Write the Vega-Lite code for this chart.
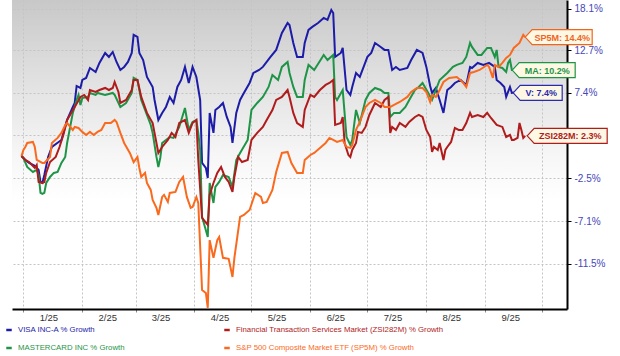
{
  "$schema": "https://vega.github.io/schema/vega-lite/v6.json",
  "width": 555,
  "height": 309,
  "autosize": {"type": "none"},
  "padding": {"left": 12, "top": 0, "right": 53, "bottom": 47},
  "background": "#ffffff",
  "config": {
    "font": "Liberation Sans",
    "view": {
      "stroke": null,
      "fill": {"gradient": "linear", "x1": 0, "y1": 0, "x2": 0, "y2": 1,
        "stops": [{"offset": 0, "color": "#c8c8c8"}, {"offset": 0.25, "color": "#e0e0e0"}, {"offset": 0.5, "color": "#f6f6f6"}, {"offset": 0.65, "color": "#ffffff"}, {"offset": 1, "color": "#ffffff"}]}
    }
  },
  "datasets": {
    "ends": [
      {"ticker": "SP5M", "date": "2025-09-22", "level": 114.4, "label": "SP5M: 14.4%"},
      {"ticker": "MA", "date": "2025-09-22", "level": 110.2, "label": "MA: 10.2%"},
      {"ticker": "V", "date": "2025-09-22", "level": 107.4, "label": "V: 7.4%"},
      {"ticker": "ZSI282M", "date": "2025-09-22", "level": 102.3, "label": "ZSI282M: 2.3%"}
    ],
    "growth": [
      {"ticker":"V","date":"2024-12-31","level":100},
      {"ticker":"V","date":"2025-01-02","level":99.55},
      {"ticker":"V","date":"2025-01-04","level":99.21},
      {"ticker":"V","date":"2025-01-07","level":98.88},
      {"ticker":"V","date":"2025-01-09","level":98.43},
      {"ticker":"V","date":"2025-01-10","level":97.10},
      {"ticker":"V","date":"2025-01-11","level":96.99},
      {"ticker":"V","date":"2025-01-12","level":97.87},
      {"ticker":"V","date":"2025-01-14","level":99.89},
      {"ticker":"V","date":"2025-01-16","level":101.02},
      {"ticker":"V","date":"2025-01-21","level":101.83},
      {"ticker":"V","date":"2025-01-24","level":104.16},
      {"ticker":"V","date":"2025-01-27","level":105.70},
      {"ticker":"V","date":"2025-01-28","level":106.18},
      {"ticker":"V","date":"2025-01-29","level":108.24},
      {"ticker":"V","date":"2025-01-31","level":108.00},
      {"ticker":"V","date":"2025-02-01","level":108.98},
      {"ticker":"V","date":"2025-02-03","level":109.23},
      {"ticker":"V","date":"2025-02-05","level":110.47},
      {"ticker":"V","date":"2025-02-08","level":109.97},
      {"ticker":"V","date":"2025-02-10","level":111.10},
      {"ticker":"V","date":"2025-02-13","level":112.36},
      {"ticker":"V","date":"2025-02-15","level":111.86},
      {"ticker":"V","date":"2025-02-17","level":112.49},
      {"ticker":"V","date":"2025-02-19","level":111.22},
      {"ticker":"V","date":"2025-02-21","level":110.22},
      {"ticker":"V","date":"2025-02-23","level":110.60},
      {"ticker":"V","date":"2025-02-25","level":111.22},
      {"ticker":"V","date":"2025-02-27","level":112.36},
      {"ticker":"V","date":"2025-02-28","level":114.68},
      {"ticker":"V","date":"2025-03-02","level":114.42},
      {"ticker":"V","date":"2025-03-03","level":112.36},
      {"ticker":"V","date":"2025-03-05","level":111.47},
      {"ticker":"V","date":"2025-03-07","level":109.35},
      {"ticker":"V","date":"2025-03-10","level":108.12},
      {"ticker":"V","date":"2025-03-11","level":106.54},
      {"ticker":"V","date":"2025-03-13","level":104.16},
      {"ticker":"V","date":"2025-03-15","level":104.99},
      {"ticker":"V","date":"2025-03-17","level":105.70},
      {"ticker":"V","date":"2025-03-19","level":106.91},
      {"ticker":"V","date":"2025-03-21","level":106.18},
      {"ticker":"V","date":"2025-03-23","level":108.12},
      {"ticker":"V","date":"2025-03-25","level":108.98},
      {"ticker":"V","date":"2025-03-27","level":110.60},
      {"ticker":"V","date":"2025-03-29","level":108.61},
      {"ticker":"V","date":"2025-03-31","level":110.60},
      {"ticker":"V","date":"2025-04-02","level":109.35},
      {"ticker":"V","date":"2025-04-04","level":106.54},
      {"ticker":"V","date":"2025-04-05","level":99.21},
      {"ticker":"V","date":"2025-04-07","level":98.65},
      {"ticker":"V","date":"2025-04-08","level":97.54},
      {"ticker":"V","date":"2025-04-09","level":104.99},
      {"ticker":"V","date":"2025-04-11","level":102.64},
      {"ticker":"V","date":"2025-04-12","level":105.34},
      {"ticker":"V","date":"2025-04-14","level":105.70},
      {"ticker":"V","date":"2025-04-16","level":106.18},
      {"ticker":"V","date":"2025-04-18","level":104.51},
      {"ticker":"V","date":"2025-04-20","level":103.34},
      {"ticker":"V","date":"2025-04-21","level":101.48},
      {"ticker":"V","date":"2025-04-23","level":104.99},
      {"ticker":"V","date":"2025-04-25","level":106.54},
      {"ticker":"V","date":"2025-04-27","level":107.39},
      {"ticker":"V","date":"2025-04-30","level":108.61},
      {"ticker":"V","date":"2025-05-02","level":109.85},
      {"ticker":"V","date":"2025-05-05","level":110.22},
      {"ticker":"V","date":"2025-05-07","level":110.60},
      {"ticker":"V","date":"2025-05-11","level":111.86},
      {"ticker":"V","date":"2025-05-14","level":112.75},
      {"ticker":"V","date":"2025-05-17","level":114.94},
      {"ticker":"V","date":"2025-05-20","level":116.24},
      {"ticker":"V","date":"2025-05-21","level":115.98},
      {"ticker":"V","date":"2025-05-23","level":113.64},
      {"ticker":"V","date":"2025-05-25","level":111.86},
      {"ticker":"V","date":"2025-05-28","level":111.86},
      {"ticker":"V","date":"2025-05-29","level":113.64},
      {"ticker":"V","date":"2025-05-31","level":115.33},
      {"ticker":"V","date":"2025-06-02","level":115.72},
      {"ticker":"V","date":"2025-06-05","level":116.24},
      {"ticker":"V","date":"2025-06-08","level":116.90},
      {"ticker":"V","date":"2025-06-10","level":116.64},
      {"ticker":"V","date":"2025-06-12","level":117.97},
      {"ticker":"V","date":"2025-06-13","level":117.56},
      {"ticker":"V","date":"2025-06-14","level":111.86},
      {"ticker":"V","date":"2025-06-17","level":112.36},
      {"ticker":"V","date":"2025-06-18","level":113.00},
      {"ticker":"V","date":"2025-06-20","level":107.75},
      {"ticker":"V","date":"2025-06-22","level":107.15},
      {"ticker":"V","date":"2025-06-23","level":108.12},
      {"ticker":"V","date":"2025-06-25","level":109.85},
      {"ticker":"V","date":"2025-06-27","level":109.35},
      {"ticker":"V","date":"2025-06-29","level":110.60},
      {"ticker":"V","date":"2025-07-01","level":111.86},
      {"ticker":"V","date":"2025-07-03","level":112.36},
      {"ticker":"V","date":"2025-07-05","level":113.64},
      {"ticker":"V","date":"2025-07-08","level":113.13},
      {"ticker":"V","date":"2025-07-10","level":112.75},
      {"ticker":"V","date":"2025-07-12","level":112.75},
      {"ticker":"V","date":"2025-07-14","level":110.22},
      {"ticker":"V","date":"2025-07-16","level":110.60},
      {"ticker":"V","date":"2025-07-18","level":110.22},
      {"ticker":"V","date":"2025-07-22","level":110.47},
      {"ticker":"V","date":"2025-07-24","level":111.47},
      {"ticker":"V","date":"2025-07-27","level":112.75},
      {"ticker":"V","date":"2025-07-30","level":112.36},
      {"ticker":"V","date":"2025-08-01","level":110.60},
      {"ticker":"V","date":"2025-08-03","level":108.24},
      {"ticker":"V","date":"2025-08-04","level":107.39},
      {"ticker":"V","date":"2025-08-06","level":108.00},
      {"ticker":"V","date":"2025-08-08","level":106.54},
      {"ticker":"V","date":"2025-08-10","level":104.99},
      {"ticker":"V","date":"2025-08-12","level":107.75},
      {"ticker":"V","date":"2025-08-14","level":108.12},
      {"ticker":"V","date":"2025-08-16","level":108.61},
      {"ticker":"V","date":"2025-08-19","level":108.98},
      {"ticker":"V","date":"2025-08-22","level":108.37},
      {"ticker":"V","date":"2025-08-24","level":110.60},
      {"ticker":"V","date":"2025-08-25","level":110.47},
      {"ticker":"V","date":"2025-08-28","level":111.10},
      {"ticker":"V","date":"2025-08-31","level":110.85},
      {"ticker":"V","date":"2025-09-03","level":111.10},
      {"ticker":"V","date":"2025-09-06","level":110.60},
      {"ticker":"V","date":"2025-09-07","level":108.98},
      {"ticker":"V","date":"2025-09-09","level":108.61},
      {"ticker":"V","date":"2025-09-11","level":108.12},
      {"ticker":"V","date":"2025-09-12","level":106.91},
      {"ticker":"V","date":"2025-09-14","level":108.12},
      {"ticker":"V","date":"2025-09-15","level":107.39},
      {"ticker":"V","date":"2025-09-18","level":107.50},
      {"ticker":"V","date":"2025-09-22","level":107.40},

      {"ticker":"MA","date":"2024-12-31","level":100},
      {"ticker":"MA","date":"2025-01-01","level":99.77},
      {"ticker":"MA","date":"2025-01-03","level":98.76},
      {"ticker":"MA","date":"2025-01-06","level":98.21},
      {"ticker":"MA","date":"2025-01-08","level":98.43},
      {"ticker":"MA","date":"2025-01-09","level":97.87},
      {"ticker":"MA","date":"2025-01-10","level":95.90},
      {"ticker":"MA","date":"2025-01-11","level":95.79},
      {"ticker":"MA","date":"2025-01-12","level":95.90},
      {"ticker":"MA","date":"2025-01-13","level":96.99},
      {"ticker":"MA","date":"2025-01-15","level":97.65},
      {"ticker":"MA","date":"2025-01-17","level":98.10},
      {"ticker":"MA","date":"2025-01-19","level":98.21},
      {"ticker":"MA","date":"2025-01-21","level":99.21},
      {"ticker":"MA","date":"2025-01-23","level":99.89},
      {"ticker":"MA","date":"2025-01-24","level":101.48},
      {"ticker":"MA","date":"2025-01-27","level":104.99},
      {"ticker":"MA","date":"2025-01-29","level":106.54},
      {"ticker":"MA","date":"2025-01-30","level":107.15},
      {"ticker":"MA","date":"2025-01-31","level":105.94},
      {"ticker":"MA","date":"2025-02-01","level":106.79},
      {"ticker":"MA","date":"2025-02-04","level":106.91},
      {"ticker":"MA","date":"2025-02-05","level":107.39},
      {"ticker":"MA","date":"2025-02-08","level":107.15},
      {"ticker":"MA","date":"2025-02-09","level":107.39},
      {"ticker":"MA","date":"2025-02-13","level":107.15},
      {"ticker":"MA","date":"2025-02-17","level":107.39},
      {"ticker":"MA","date":"2025-02-18","level":107.15},
      {"ticker":"MA","date":"2025-02-21","level":105.70},
      {"ticker":"MA","date":"2025-02-24","level":106.18},
      {"ticker":"MA","date":"2025-02-27","level":107.39},
      {"ticker":"MA","date":"2025-02-28","level":109.23},
      {"ticker":"MA","date":"2025-03-02","level":108.98},
      {"ticker":"MA","date":"2025-03-04","level":106.54},
      {"ticker":"MA","date":"2025-03-06","level":105.34},
      {"ticker":"MA","date":"2025-03-09","level":103.57},
      {"ticker":"MA","date":"2025-03-10","level":102.64},
      {"ticker":"MA","date":"2025-03-12","level":99.89},
      {"ticker":"MA","date":"2025-03-13","level":98.76},
      {"ticker":"MA","date":"2025-03-14","level":99.77},
      {"ticker":"MA","date":"2025-03-15","level":101.48},
      {"ticker":"MA","date":"2025-03-19","level":102.17},
      {"ticker":"MA","date":"2025-03-21","level":102.06},
      {"ticker":"MA","date":"2025-03-24","level":103.34},
      {"ticker":"MA","date":"2025-03-27","level":105.58},
      {"ticker":"MA","date":"2025-03-29","level":102.99},
      {"ticker":"MA","date":"2025-03-31","level":103.92},
      {"ticker":"MA","date":"2025-04-02","level":104.16},
      {"ticker":"MA","date":"2025-04-03","level":102.64},
      {"ticker":"MA","date":"2025-04-04","level":100.68},
      {"ticker":"MA","date":"2025-04-05","level":93.33},
      {"ticker":"MA","date":"2025-04-08","level":91.24},
      {"ticker":"MA","date":"2025-04-09","level":96.99},
      {"ticker":"MA","date":"2025-04-11","level":94.82},
      {"ticker":"MA","date":"2025-04-12","level":96.55},
      {"ticker":"MA","date":"2025-04-14","level":97.10},
      {"ticker":"MA","date":"2025-04-16","level":97.87},
      {"ticker":"MA","date":"2025-04-19","level":97.65},
      {"ticker":"MA","date":"2025-04-21","level":96.55},
      {"ticker":"MA","date":"2025-04-23","level":99.55},
      {"ticker":"MA","date":"2025-04-25","level":100.34},
      {"ticker":"MA","date":"2025-04-29","level":101.83},
      {"ticker":"MA","date":"2025-05-01","level":105.34},
      {"ticker":"MA","date":"2025-05-04","level":106.18},
      {"ticker":"MA","date":"2025-05-07","level":106.91},
      {"ticker":"MA","date":"2025-05-10","level":108.12},
      {"ticker":"MA","date":"2025-05-12","level":109.60},
      {"ticker":"MA","date":"2025-05-15","level":108.98},
      {"ticker":"MA","date":"2025-05-17","level":110.60},
      {"ticker":"MA","date":"2025-05-20","level":111.22},
      {"ticker":"MA","date":"2025-05-21","level":109.85},
      {"ticker":"MA","date":"2025-05-23","level":108.12},
      {"ticker":"MA","date":"2025-05-25","level":106.91},
      {"ticker":"MA","date":"2025-05-28","level":106.91},
      {"ticker":"MA","date":"2025-05-29","level":108.98},
      {"ticker":"MA","date":"2025-05-31","level":110.85},
      {"ticker":"MA","date":"2025-06-03","level":110.22},
      {"ticker":"MA","date":"2025-06-08","level":112.11},
      {"ticker":"MA","date":"2025-06-10","level":111.47},
      {"ticker":"MA","date":"2025-06-13","level":112.11},
      {"ticker":"MA","date":"2025-06-14","level":106.91},
      {"ticker":"MA","date":"2025-06-15","level":106.54},
      {"ticker":"MA","date":"2025-06-18","level":107.75},
      {"ticker":"MA","date":"2025-06-20","level":102.17},
      {"ticker":"MA","date":"2025-06-22","level":101.25},
      {"ticker":"MA","date":"2025-06-23","level":101.83},
      {"ticker":"MA","date":"2025-06-25","level":105.34},
      {"ticker":"MA","date":"2025-06-27","level":103.80},
      {"ticker":"MA","date":"2025-06-30","level":106.54},
      {"ticker":"MA","date":"2025-07-02","level":107.39},
      {"ticker":"MA","date":"2025-07-05","level":108.00},
      {"ticker":"MA","date":"2025-07-08","level":107.75},
      {"ticker":"MA","date":"2025-07-10","level":107.39},
      {"ticker":"MA","date":"2025-07-12","level":107.39},
      {"ticker":"MA","date":"2025-07-13","level":104.51},
      {"ticker":"MA","date":"2025-07-15","level":104.99},
      {"ticker":"MA","date":"2025-07-18","level":104.99},
      {"ticker":"MA","date":"2025-07-21","level":105.70},
      {"ticker":"MA","date":"2025-07-23","level":106.54},
      {"ticker":"MA","date":"2025-07-26","level":107.75},
      {"ticker":"MA","date":"2025-07-28","level":108.12},
      {"ticker":"MA","date":"2025-07-30","level":108.61},
      {"ticker":"MA","date":"2025-08-02","level":107.39},
      {"ticker":"MA","date":"2025-08-04","level":106.54},
      {"ticker":"MA","date":"2025-08-08","level":108.98},
      {"ticker":"MA","date":"2025-08-12","level":109.85},
      {"ticker":"MA","date":"2025-08-15","level":110.60},
      {"ticker":"MA","date":"2025-08-17","level":110.85},
      {"ticker":"MA","date":"2025-08-20","level":111.10},
      {"ticker":"MA","date":"2025-08-22","level":111.86},
      {"ticker":"MA","date":"2025-08-24","level":113.64},
      {"ticker":"MA","date":"2025-08-25","level":113.13},
      {"ticker":"MA","date":"2025-08-28","level":112.11},
      {"ticker":"MA","date":"2025-08-30","level":112.11},
      {"ticker":"MA","date":"2025-09-02","level":113.00},
      {"ticker":"MA","date":"2025-09-04","level":113.00},
      {"ticker":"MA","date":"2025-09-06","level":111.86},
      {"ticker":"MA","date":"2025-09-07","level":112.75},
      {"ticker":"MA","date":"2025-09-08","level":110.60},
      {"ticker":"MA","date":"2025-09-10","level":110.47},
      {"ticker":"MA","date":"2025-09-12","level":109.97},
      {"ticker":"MA","date":"2025-09-13","level":111.10},
      {"ticker":"MA","date":"2025-09-14","level":111.47},
      {"ticker":"MA","date":"2025-09-15","level":110.22},
      {"ticker":"MA","date":"2025-09-18","level":110.20},
      {"ticker":"MA","date":"2025-09-22","level":110.20},

      {"ticker":"ZSI282M","date":"2024-12-31","level":100},
      {"ticker":"ZSI282M","date":"2025-01-02","level":99.55},
      {"ticker":"ZSI282M","date":"2025-01-04","level":99.32},
      {"ticker":"ZSI282M","date":"2025-01-07","level":98.65},
      {"ticker":"ZSI282M","date":"2025-01-08","level":98.99},
      {"ticker":"ZSI282M","date":"2025-01-09","level":97.10},
      {"ticker":"ZSI282M","date":"2025-01-11","level":96.99},
      {"ticker":"ZSI282M","date":"2025-01-12","level":97.10},
      {"ticker":"ZSI282M","date":"2025-01-13","level":98.10},
      {"ticker":"ZSI282M","date":"2025-01-15","level":99.32},
      {"ticker":"ZSI282M","date":"2025-01-18","level":99.89},
      {"ticker":"ZSI282M","date":"2025-01-20","level":101.02},
      {"ticker":"ZSI282M","date":"2025-01-22","level":102.41},
      {"ticker":"ZSI282M","date":"2025-01-24","level":104.16},
      {"ticker":"ZSI282M","date":"2025-01-28","level":105.70},
      {"ticker":"ZSI282M","date":"2025-01-31","level":106.91},
      {"ticker":"ZSI282M","date":"2025-02-02","level":107.15},
      {"ticker":"ZSI282M","date":"2025-02-04","level":106.54},
      {"ticker":"ZSI282M","date":"2025-02-05","level":107.75},
      {"ticker":"ZSI282M","date":"2025-02-08","level":107.51},
      {"ticker":"ZSI282M","date":"2025-02-10","level":107.75},
      {"ticker":"ZSI282M","date":"2025-02-13","level":108.00},
      {"ticker":"ZSI282M","date":"2025-02-15","level":107.75},
      {"ticker":"ZSI282M","date":"2025-02-17","level":108.00},
      {"ticker":"ZSI282M","date":"2025-02-18","level":108.73},
      {"ticker":"ZSI282M","date":"2025-02-20","level":107.51},
      {"ticker":"ZSI282M","date":"2025-02-21","level":106.18},
      {"ticker":"ZSI282M","date":"2025-02-24","level":106.54},
      {"ticker":"ZSI282M","date":"2025-02-27","level":107.75},
      {"ticker":"ZSI282M","date":"2025-02-28","level":108.98},
      {"ticker":"ZSI282M","date":"2025-03-02","level":108.98},
      {"ticker":"ZSI282M","date":"2025-03-04","level":106.91},
      {"ticker":"ZSI282M","date":"2025-03-07","level":104.99},
      {"ticker":"ZSI282M","date":"2025-03-10","level":103.80},
      {"ticker":"ZSI282M","date":"2025-03-11","level":102.64},
      {"ticker":"ZSI282M","date":"2025-03-13","level":100.34},
      {"ticker":"ZSI282M","date":"2025-03-15","level":101.02},
      {"ticker":"ZSI282M","date":"2025-03-18","level":101.83},
      {"ticker":"ZSI282M","date":"2025-03-20","level":102.64},
      {"ticker":"ZSI282M","date":"2025-03-22","level":102.17},
      {"ticker":"ZSI282M","date":"2025-03-24","level":103.80},
      {"ticker":"ZSI282M","date":"2025-03-27","level":104.16},
      {"ticker":"ZSI282M","date":"2025-03-29","level":102.64},
      {"ticker":"ZSI282M","date":"2025-03-31","level":103.80},
      {"ticker":"ZSI282M","date":"2025-04-02","level":104.16},
      {"ticker":"ZSI282M","date":"2025-04-03","level":99.55},
      {"ticker":"ZSI282M","date":"2025-04-05","level":93.23},
      {"ticker":"ZSI282M","date":"2025-04-08","level":92.49},
      {"ticker":"ZSI282M","date":"2025-04-09","level":95.69},
      {"ticker":"ZSI282M","date":"2025-04-11","level":96.99},
      {"ticker":"ZSI282M","date":"2025-04-13","level":98.10},
      {"ticker":"ZSI282M","date":"2025-04-15","level":98.76},
      {"ticker":"ZSI282M","date":"2025-04-17","level":97.65},
      {"ticker":"ZSI282M","date":"2025-04-19","level":97.10},
      {"ticker":"ZSI282M","date":"2025-04-21","level":96.01},
      {"ticker":"ZSI282M","date":"2025-04-22","level":97.65},
      {"ticker":"ZSI282M","date":"2025-04-24","level":99.89},
      {"ticker":"ZSI282M","date":"2025-04-26","level":99.32},
      {"ticker":"ZSI282M","date":"2025-04-29","level":99.55},
      {"ticker":"ZSI282M","date":"2025-04-30","level":100.68},
      {"ticker":"ZSI282M","date":"2025-05-01","level":101.83},
      {"ticker":"ZSI282M","date":"2025-05-04","level":102.64},
      {"ticker":"ZSI282M","date":"2025-05-07","level":103.34},
      {"ticker":"ZSI282M","date":"2025-05-09","level":104.16},
      {"ticker":"ZSI282M","date":"2025-05-12","level":105.34},
      {"ticker":"ZSI282M","date":"2025-05-14","level":106.54},
      {"ticker":"ZSI282M","date":"2025-05-17","level":106.91},
      {"ticker":"ZSI282M","date":"2025-05-20","level":107.75},
      {"ticker":"ZSI282M","date":"2025-05-21","level":106.91},
      {"ticker":"ZSI282M","date":"2025-05-23","level":104.99},
      {"ticker":"ZSI282M","date":"2025-05-25","level":103.80},
      {"ticker":"ZSI282M","date":"2025-05-28","level":103.34},
      {"ticker":"ZSI282M","date":"2025-05-29","level":105.34},
      {"ticker":"ZSI282M","date":"2025-06-01","level":107.15},
      {"ticker":"ZSI282M","date":"2025-06-03","level":106.91},
      {"ticker":"ZSI282M","date":"2025-06-06","level":107.75},
      {"ticker":"ZSI282M","date":"2025-06-09","level":108.37},
      {"ticker":"ZSI282M","date":"2025-06-11","level":108.61},
      {"ticker":"ZSI282M","date":"2025-06-13","level":108.98},
      {"ticker":"ZSI282M","date":"2025-06-14","level":103.57},
      {"ticker":"ZSI282M","date":"2025-06-17","level":103.80},
      {"ticker":"ZSI282M","date":"2025-06-18","level":104.51},
      {"ticker":"ZSI282M","date":"2025-06-19","level":101.48},
      {"ticker":"ZSI282M","date":"2025-06-21","level":100.11},
      {"ticker":"ZSI282M","date":"2025-06-22","level":99.89},
      {"ticker":"ZSI282M","date":"2025-06-23","level":100.68},
      {"ticker":"ZSI282M","date":"2025-06-25","level":101.48},
      {"ticker":"ZSI282M","date":"2025-06-26","level":102.76},
      {"ticker":"ZSI282M","date":"2025-06-28","level":102.64},
      {"ticker":"ZSI282M","date":"2025-06-30","level":103.34},
      {"ticker":"ZSI282M","date":"2025-07-02","level":104.75},
      {"ticker":"ZSI282M","date":"2025-07-05","level":106.18},
      {"ticker":"ZSI282M","date":"2025-07-08","level":105.70},
      {"ticker":"ZSI282M","date":"2025-07-10","level":106.54},
      {"ticker":"ZSI282M","date":"2025-07-12","level":106.91},
      {"ticker":"ZSI282M","date":"2025-07-13","level":102.64},
      {"ticker":"ZSI282M","date":"2025-07-14","level":103.34},
      {"ticker":"ZSI282M","date":"2025-07-16","level":102.99},
      {"ticker":"ZSI282M","date":"2025-07-18","level":103.80},
      {"ticker":"ZSI282M","date":"2025-07-21","level":103.34},
      {"ticker":"ZSI282M","date":"2025-07-23","level":103.92},
      {"ticker":"ZSI282M","date":"2025-07-26","level":104.51},
      {"ticker":"ZSI282M","date":"2025-07-28","level":104.75},
      {"ticker":"ZSI282M","date":"2025-07-30","level":104.51},
      {"ticker":"ZSI282M","date":"2025-08-01","level":102.99},
      {"ticker":"ZSI282M","date":"2025-08-03","level":102.17},
      {"ticker":"ZSI282M","date":"2025-08-04","level":100.45},
      {"ticker":"ZSI282M","date":"2025-08-05","level":101.02},
      {"ticker":"ZSI282M","date":"2025-08-07","level":100.68},
      {"ticker":"ZSI282M","date":"2025-08-08","level":101.48},
      {"ticker":"ZSI282M","date":"2025-08-10","level":99.55},
      {"ticker":"ZSI282M","date":"2025-08-11","level":100.68},
      {"ticker":"ZSI282M","date":"2025-08-12","level":101.02},
      {"ticker":"ZSI282M","date":"2025-08-14","level":101.60},
      {"ticker":"ZSI282M","date":"2025-08-16","level":103.22},
      {"ticker":"ZSI282M","date":"2025-08-18","level":102.99},
      {"ticker":"ZSI282M","date":"2025-08-20","level":102.99},
      {"ticker":"ZSI282M","date":"2025-08-22","level":103.80},
      {"ticker":"ZSI282M","date":"2025-08-24","level":104.99},
      {"ticker":"ZSI282M","date":"2025-08-25","level":104.51},
      {"ticker":"ZSI282M","date":"2025-08-28","level":104.75},
      {"ticker":"ZSI282M","date":"2025-08-31","level":104.51},
      {"ticker":"ZSI282M","date":"2025-09-02","level":104.99},
      {"ticker":"ZSI282M","date":"2025-09-04","level":104.39},
      {"ticker":"ZSI282M","date":"2025-09-07","level":103.57},
      {"ticker":"ZSI282M","date":"2025-09-10","level":103.34},
      {"ticker":"ZSI282M","date":"2025-09-12","level":102.17},
      {"ticker":"ZSI282M","date":"2025-09-14","level":102.41},
      {"ticker":"ZSI282M","date":"2025-09-15","level":101.83},
      {"ticker":"ZSI282M","date":"2025-09-16","level":101.83},
      {"ticker":"ZSI282M","date":"2025-09-18","level":102.06},
      {"ticker":"ZSI282M","date":"2025-09-19","level":103.80},
      {"ticker":"ZSI282M","date":"2025-09-20","level":102.99},
      {"ticker":"ZSI282M","date":"2025-09-21","level":102.06},
      {"ticker":"ZSI282M","date":"2025-09-22","level":102.30},

      {"ticker":"SP5M","date":"2024-12-31","level":100},
      {"ticker":"SP5M","date":"2025-01-01","level":100.68},
      {"ticker":"SP5M","date":"2025-01-02","level":101.02},
      {"ticker":"SP5M","date":"2025-01-03","level":101.48},
      {"ticker":"SP5M","date":"2025-01-06","level":101.60},
      {"ticker":"SP5M","date":"2025-01-07","level":101.02},
      {"ticker":"SP5M","date":"2025-01-08","level":99.55},
      {"ticker":"SP5M","date":"2025-01-11","level":99.21},
      {"ticker":"SP5M","date":"2025-01-12","level":99.21},
      {"ticker":"SP5M","date":"2025-01-15","level":99.89},
      {"ticker":"SP5M","date":"2025-01-16","level":101.48},
      {"ticker":"SP5M","date":"2025-01-19","level":102.06},
      {"ticker":"SP5M","date":"2025-01-21","level":102.64},
      {"ticker":"SP5M","date":"2025-01-23","level":103.57},
      {"ticker":"SP5M","date":"2025-01-24","level":103.80},
      {"ticker":"SP5M","date":"2025-01-27","level":102.99},
      {"ticker":"SP5M","date":"2025-01-28","level":103.34},
      {"ticker":"SP5M","date":"2025-01-30","level":103.22},
      {"ticker":"SP5M","date":"2025-02-01","level":102.76},
      {"ticker":"SP5M","date":"2025-02-03","level":102.41},
      {"ticker":"SP5M","date":"2025-02-05","level":102.76},
      {"ticker":"SP5M","date":"2025-02-07","level":102.41},
      {"ticker":"SP5M","date":"2025-02-09","level":102.76},
      {"ticker":"SP5M","date":"2025-02-11","level":102.99},
      {"ticker":"SP5M","date":"2025-02-13","level":103.80},
      {"ticker":"SP5M","date":"2025-02-16","level":103.80},
      {"ticker":"SP5M","date":"2025-02-18","level":104.16},
      {"ticker":"SP5M","date":"2025-02-19","level":103.92},
      {"ticker":"SP5M","date":"2025-02-21","level":102.64},
      {"ticker":"SP5M","date":"2025-02-23","level":101.48},
      {"ticker":"SP5M","date":"2025-02-26","level":100.34},
      {"ticker":"SP5M","date":"2025-02-28","level":99.30},
      {"ticker":"SP5M","date":"2025-03-02","level":99.89},
      {"ticker":"SP5M","date":"2025-03-03","level":98.65},
      {"ticker":"SP5M","date":"2025-03-04","level":97.65},
      {"ticker":"SP5M","date":"2025-03-06","level":98.10},
      {"ticker":"SP5M","date":"2025-03-07","level":96.99},
      {"ticker":"SP5M","date":"2025-03-09","level":96.23},
      {"ticker":"SP5M","date":"2025-03-10","level":95.15},
      {"ticker":"SP5M","date":"2025-03-12","level":94.29},
      {"ticker":"SP5M","date":"2025-03-13","level":93.54},
      {"ticker":"SP5M","date":"2025-03-15","level":95.47},
      {"ticker":"SP5M","date":"2025-03-16","level":95.69},
      {"ticker":"SP5M","date":"2025-03-18","level":94.93},
      {"ticker":"SP5M","date":"2025-03-19","level":95.90},
      {"ticker":"SP5M","date":"2025-03-22","level":96.01},
      {"ticker":"SP5M","date":"2025-03-24","level":97.10},
      {"ticker":"SP5M","date":"2025-03-26","level":97.65},
      {"ticker":"SP5M","date":"2025-03-28","level":95.47},
      {"ticker":"SP5M","date":"2025-03-30","level":94.29},
      {"ticker":"SP5M","date":"2025-03-31","level":94.39},
      {"ticker":"SP5M","date":"2025-04-02","level":95.47},
      {"ticker":"SP5M","date":"2025-04-03","level":94.82},
      {"ticker":"SP5M","date":"2025-04-05","level":85.93},
      {"ticker":"SP5M","date":"2025-04-07","level":85.64},
      {"ticker":"SP5M","date":"2025-04-08","level":84.21},
      {"ticker":"SP5M","date":"2025-04-09","level":90.92},
      {"ticker":"SP5M","date":"2025-04-11","level":89.11},
      {"ticker":"SP5M","date":"2025-04-13","level":90.92},
      {"ticker":"SP5M","date":"2025-04-14","level":91.24},
      {"ticker":"SP5M","date":"2025-04-16","level":89.11},
      {"ticker":"SP5M","date":"2025-04-19","level":89.01},
      {"ticker":"SP5M","date":"2025-04-21","level":87.20},
      {"ticker":"SP5M","date":"2025-04-22","level":89.11},
      {"ticker":"SP5M","date":"2025-04-25","level":93.33},
      {"ticker":"SP5M","date":"2025-04-27","level":93.54},
      {"ticker":"SP5M","date":"2025-04-30","level":94.07},
      {"ticker":"SP5M","date":"2025-05-03","level":95.90},
      {"ticker":"SP5M","date":"2025-05-06","level":95.47},
      {"ticker":"SP5M","date":"2025-05-07","level":94.82},
      {"ticker":"SP5M","date":"2025-05-09","level":94.93},
      {"ticker":"SP5M","date":"2025-05-12","level":96.23},
      {"ticker":"SP5M","date":"2025-05-14","level":98.21},
      {"ticker":"SP5M","date":"2025-05-17","level":100.34},
      {"ticker":"SP5M","date":"2025-05-20","level":100.45},
      {"ticker":"SP5M","date":"2025-05-22","level":99.21},
      {"ticker":"SP5M","date":"2025-05-25","level":98.10},
      {"ticker":"SP5M","date":"2025-05-28","level":98.10},
      {"ticker":"SP5M","date":"2025-05-29","level":99.55},
      {"ticker":"SP5M","date":"2025-06-01","level":100.11},
      {"ticker":"SP5M","date":"2025-06-03","level":100.34},
      {"ticker":"SP5M","date":"2025-06-06","level":100.91},
      {"ticker":"SP5M","date":"2025-06-09","level":101.48},
      {"ticker":"SP5M","date":"2025-06-11","level":102.06},
      {"ticker":"SP5M","date":"2025-06-13","level":101.83},
      {"ticker":"SP5M","date":"2025-06-15","level":101.60},
      {"ticker":"SP5M","date":"2025-06-18","level":101.83},
      {"ticker":"SP5M","date":"2025-06-20","level":101.02},
      {"ticker":"SP5M","date":"2025-06-22","level":100.91},
      {"ticker":"SP5M","date":"2025-06-23","level":101.25},
      {"ticker":"SP5M","date":"2025-06-25","level":102.99},
      {"ticker":"SP5M","date":"2025-06-27","level":103.92},
      {"ticker":"SP5M","date":"2025-06-30","level":105.70},
      {"ticker":"SP5M","date":"2025-07-02","level":106.18},
      {"ticker":"SP5M","date":"2025-07-05","level":106.54},
      {"ticker":"SP5M","date":"2025-07-08","level":106.18},
      {"ticker":"SP5M","date":"2025-07-10","level":105.70},
      {"ticker":"SP5M","date":"2025-07-13","level":105.70},
      {"ticker":"SP5M","date":"2025-07-15","level":105.94},
      {"ticker":"SP5M","date":"2025-07-18","level":106.30},
      {"ticker":"SP5M","date":"2025-07-22","level":106.91},
      {"ticker":"SP5M","date":"2025-07-24","level":107.51},
      {"ticker":"SP5M","date":"2025-07-27","level":108.00},
      {"ticker":"SP5M","date":"2025-07-30","level":108.00},
      {"ticker":"SP5M","date":"2025-08-01","level":107.51},
      {"ticker":"SP5M","date":"2025-08-03","level":106.30},
      {"ticker":"SP5M","date":"2025-08-04","level":107.15},
      {"ticker":"SP5M","date":"2025-08-06","level":106.91},
      {"ticker":"SP5M","date":"2025-08-08","level":107.75},
      {"ticker":"SP5M","date":"2025-08-10","level":108.73},
      {"ticker":"SP5M","date":"2025-08-13","level":109.23},
      {"ticker":"SP5M","date":"2025-08-17","level":109.35},
      {"ticker":"SP5M","date":"2025-08-20","level":108.73},
      {"ticker":"SP5M","date":"2025-08-22","level":108.12},
      {"ticker":"SP5M","date":"2025-08-24","level":109.85},
      {"ticker":"SP5M","date":"2025-08-26","level":109.97},
      {"ticker":"SP5M","date":"2025-08-29","level":110.22},
      {"ticker":"SP5M","date":"2025-09-02","level":110.85},
      {"ticker":"SP5M","date":"2025-09-03","level":110.60},
      {"ticker":"SP5M","date":"2025-09-05","level":109.23},
      {"ticker":"SP5M","date":"2025-09-06","level":110.85},
      {"ticker":"SP5M","date":"2025-09-08","level":110.60},
      {"ticker":"SP5M","date":"2025-09-10","level":111.10},
      {"ticker":"SP5M","date":"2025-09-12","level":111.73},
      {"ticker":"SP5M","date":"2025-09-14","level":112.11},
      {"ticker":"SP5M","date":"2025-09-16","level":113.00},
      {"ticker":"SP5M","date":"2025-09-19","level":113.64},
      {"ticker":"SP5M","date":"2025-09-21","level":114.68},
      {"ticker":"SP5M","date":"2025-09-22","level":114.40}
    ]
  },
  "layer": [
    {
      "data": {"name": "growth"},
      "mark": {"type": "line", "strokeWidth": 2, "interpolate": "linear"},
      "encoding": {
        "x": {
          "field": "date", "type": "temporal", "title": null,
          "scale": {"domain": [{"year": 2024, "month": 12, "date": 26}, {"year": 2025, "month": 10, "date": 14}]},
          "axis": {
            "orient": "bottom",
            "values": [
              {"year": 2025, "month": 1, "date": 1}, {"year": 2025, "month": 2, "date": 1}, {"year": 2025, "month": 3, "date": 1},
              {"year": 2025, "month": 4, "date": 1}, {"year": 2025, "month": 5, "date": 1}, {"year": 2025, "month": 6, "date": 1},
              {"year": 2025, "month": 7, "date": 1}, {"year": 2025, "month": 8, "date": 1}, {"year": 2025, "month": 9, "date": 1},
              {"year": 2025, "month": 10, "date": 1}
            ],
            "format": "%-m/%y",
            "labelExpr": "month(datum.value) == 9 ? '' : datum.label",
            "labelOffset": 25,
            "labelFontSize": 9.5,
            "labelColor": "#333333",
            "labelPadding": 0,
            "tickSize": 3,
            "tickColor": "#888888",
            "domainColor": "#000000",
            "domainWidth": 2,
            "grid": true,
            "gridColor": "#c4c4c4",
            "gridDash": [2, 2],
            "gridWidth": 1
          }
        },
        "y": {
          "field": "level", "type": "quantitative", "title": null,
          "scale": {"type": "log", "domain": [84.1, 119.3], "nice": false, "zero": false},
          "axis": {
            "orient": "right",
            "values": [88.5, 92.9, 97.5, 102.35, 107.4, 112.7, 118.1],
            "labelExpr": "datum.value == 102.35 ? '' : (datum.value < 100 ? '-' : '') + format(abs(datum.value - 100), '.1f') + '%'",
            "labelFontSize": 10,
            "labelColor": "#4646b8",
            "labelPadding": 3,
            "tickSize": 4,
            "tickColor": "#000000",
            "domainColor": "#000000",
            "domainWidth": 2,
            "grid": true,
            "gridColor": "#c4c4c4",
            "gridDash": [2, 2],
            "gridWidth": 1
          }
        },
        "color": {
          "field": "ticker", "type": "nominal",
          "scale": {"domain": ["V", "MA", "ZSI282M", "SP5M"], "range": ["#1c1ca8", "#1e9447", "#b01c1c", "#fa6a1e"]},
          "legend": {
            "title": null,
            "orient": "none",
            "legendX": -7,
            "legendY": 326,
            "columns": 2,
            "symbolType": "stroke",
            "symbolSize": 30,
            "symbolStrokeWidth": 2.5,
            "labelFontSize": 7.8,
            "labelOffset": 5,
            "labelLimit": 400,
            "rowPadding": 8,
            "columnPadding": 94,
            "padding": 0,
            "labelExpr": "datum.label == 'V' ? 'VISA INC-A % Growth' : datum.label == 'MA' ? 'MASTERCARD INC % Growth' : datum.label == 'ZSI282M' ? 'Financial Transaction Services Market (ZSI282M) % Growth' : 'S&P 500 Composite Market ETF (SP5M) % Growth'",
            "encode": {"labels": {"update": {"fill": {"signal": "scale('color', datum.value)"}}}}
          }
        }
      }
    },
    {
      "data": {"name": "ends"},
      "mark": {"type": "point", "filled": true, "fill": "#fdf8e4", "size": 4, "strokeWidth": 1.2, "opacity": 1, "fillOpacity": 1},
      "encoding": {
        "x": {"field": "date", "type": "temporal"},
        "y": {"field": "level", "type": "quantitative"},
        "shape": {
          "field": "ticker", "type": "nominal", "legend": null,
          "scale": {"domain": ["SP5M", "MA", "V", "ZSI282M"],
            "range": ["M0,0L7,-7.5L67,-7.5L67,7.5L7,7.5Z", "M-13,0L-6,-7.5L50,-7.5L50,7.5L-6,7.5Z", "M-12,0L-5,-7.5L37,-7.5L37,7.5L-5,7.5Z", "M2,0L9,-7.5L82,-7.5L82,7.5L9,7.5Z"]}
        },
        "stroke": {
          "field": "ticker", "type": "nominal", "legend": null,
          "scale": {"domain": ["SP5M", "MA", "V", "ZSI282M"], "range": ["#f0641e", "#1e9447", "#2a2ab0", "#b01c1c"]}
        }
      }
    },
    {
      "data": {"name": "ends"},
      "transform": [{"filter": "datum.ticker == 'SP5M'"}],
      "mark": {"type": "text", "dx": 37, "dy": 0.5, "align": "center", "baseline": "middle", "fontSize": 9, "fontWeight": "bold", "color": "#f0641e"},
      "encoding": {"x": {"field": "date", "type": "temporal"}, "y": {"field": "level", "type": "quantitative"}, "text": {"field": "label"}}
    },
    {
      "data": {"name": "ends"},
      "transform": [{"filter": "datum.ticker == 'MA'"}],
      "mark": {"type": "text", "dx": 22, "dy": 0.5, "align": "center", "baseline": "middle", "fontSize": 9, "fontWeight": "bold", "color": "#1e9447"},
      "encoding": {"x": {"field": "date", "type": "temporal"}, "y": {"field": "level", "type": "quantitative"}, "text": {"field": "label"}}
    },
    {
      "data": {"name": "ends"},
      "transform": [{"filter": "datum.ticker == 'V'"}],
      "mark": {"type": "text", "dx": 16, "dy": 0.5, "align": "center", "baseline": "middle", "fontSize": 9, "fontWeight": "bold", "color": "#2a2ab0"},
      "encoding": {"x": {"field": "date", "type": "temporal"}, "y": {"field": "level", "type": "quantitative"}, "text": {"field": "label"}}
    },
    {
      "data": {"name": "ends"},
      "transform": [{"filter": "datum.ticker == 'ZSI282M'"}],
      "mark": {"type": "text", "dx": 45, "dy": 0.5, "align": "center", "baseline": "middle", "fontSize": 9, "fontWeight": "bold", "color": "#b01c1c"},
      "encoding": {"x": {"field": "date", "type": "temporal"}, "y": {"field": "level", "type": "quantitative"}, "text": {"field": "label"}}
    }
  ]
}
